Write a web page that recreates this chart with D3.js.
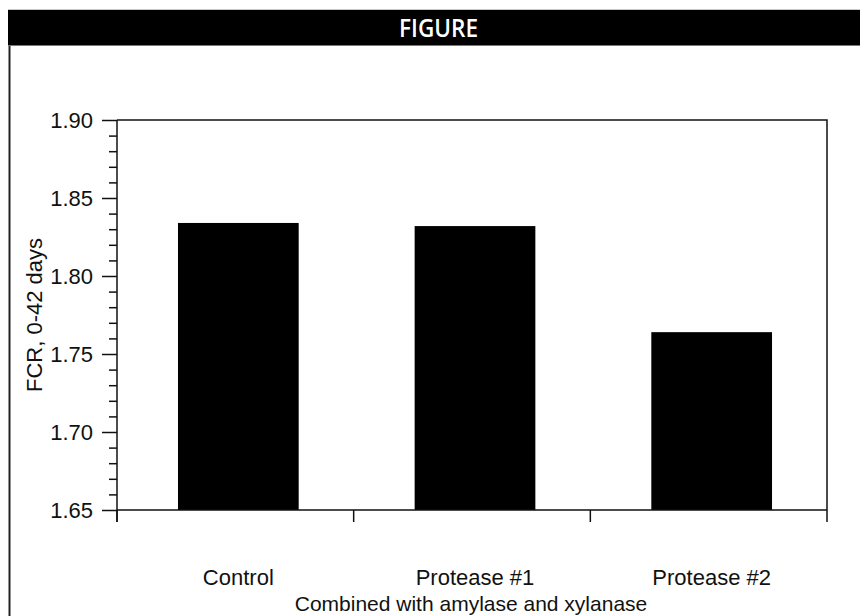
<!DOCTYPE html>
<html>
<head>
<meta charset="utf-8">
<script src="https://cdn.jsdelivr.net/npm/d3@7"></script>
<style>
  html, body { margin: 0; padding: 0; background: #fff; }
  svg { display: block; }
</style>
</head>
<body>
<svg id="chart" width="860" height="616"></svg>
<script>
// ---- data ----
const categories = ["Control", "Protease #1", "Protease #2"];
const fcrValues = [1.834, 1.832, 1.764];
const yMajorTicks = [1.65, 1.70, 1.75, 1.80, 1.85, 1.90];
const yTitle = "FCR, 0-42 days";
const xTitle = "Combined with amylase and xylanase";
const headerText = "FIGURE";

const svg = d3.select("#chart");
const W = 860, H = 616;
const m = { left: 117, right: 827, top: 120, bottom: 510 };
const font = "'Liberation Sans', Arial, Helvetica, sans-serif";
const fs = 22;

// header band
svg.append("line").attr("x1", 8).attr("x2", W).attr("y1", 9.5).attr("y2", 9.5)
  .attr("stroke", "#c8c8c8").attr("stroke-width", 1);
svg.append("rect").attr("x", 8).attr("y", 10).attr("width", W - 8).attr("height", 35).attr("fill", "#000");
svg.append("line").attr("x1", 8).attr("x2", W).attr("y1", 45.5).attr("y2", 45.5)
  .attr("stroke", "#777").attr("stroke-width", 1);
svg.append("text").attr("x", 438.5).attr("y", 37)
  .attr("text-anchor", "middle").attr("fill", "#fff")
  .attr("font-family", "'Liberation Sans Narrow', 'Open Sans', Arial, sans-serif")
  .attr("font-weight", 600).attr("font-size", 26)
  .attr("textLength", 79).attr("lengthAdjust", "spacingAndGlyphs")
  .text(headerText);

// outer frame left border
svg.append("line").attr("x1", 9.5).attr("x2", 9.5).attr("y1", 46).attr("y2", H)
  .attr("stroke", "#222").attr("stroke-width", 2);

// scales
const x = d3.scaleBand().domain(categories).range([m.left, m.right]).paddingInner(0).paddingOuter(0);
const xBar = d3.scaleBand().domain(categories).range([m.left + 3, m.right + 3]).paddingInner(0.49).paddingOuter(0.245);
const y = d3.scaleLinear().domain([1.65, 1.90]).range([m.bottom, m.top]);

// bars
svg.append("g").selectAll("rect").data(categories).join("rect")
  .attr("x", d => xBar(d))
  .attr("width", xBar.bandwidth())
  .attr("y", (d, i) => y(fcrValues[i]))
  .attr("height", (d, i) => y(1.65) - y(fcrValues[i]))
  .attr("fill", "#000");

// frame top & right
svg.append("path")
  .attr("d", `M${m.left},${m.top}H${m.right}V${m.bottom}`)
  .attr("fill", "none").attr("stroke", "#111").attr("stroke-width", 1.5);

// y axis minor ticks
const minorTicks = d3.range(0, 26).map(i => 1.65 + i * 0.01).filter(v => Math.abs(Math.round(v * 20) - v * 20) > 1e-6);
const yMinor = svg.append("g").attr("transform", `translate(${m.left},0)`)
  .call(d3.axisLeft(y).tickValues(minorTicks).tickSize(8).tickFormat(""));
yMinor.select(".domain").remove();
yMinor.selectAll("line").attr("stroke", "#111").attr("stroke-width", 1.5);

// y axis major
const yAx = svg.append("g").attr("transform", `translate(${m.left},0)`)
  .call(d3.axisLeft(y).tickValues(yMajorTicks).tickSize(15).tickPadding(9).tickFormat(d3.format(".2f")));
yAx.select(".domain").remove();
yAx.selectAll("line").attr("stroke", "#111").attr("stroke-width", 1.5);
yAx.selectAll("text").attr("font-family", font).attr("font-size", fs).attr("fill", "#111");
svg.append("line").attr("x1", m.left).attr("x2", m.left).attr("y1", m.top).attr("y2", m.bottom + 12)
  .attr("stroke", "#111").attr("stroke-width", 1.5);

// x axis
svg.append("line").attr("x1", m.left).attr("x2", m.right).attr("y1", m.bottom).attr("y2", m.bottom)
  .attr("stroke", "#111").attr("stroke-width", 1.5);
const edges = categories.map(c => x(c)).concat([x.range()[1]]);
svg.append("g").selectAll("line").data(edges).join("line")
  .attr("x1", d => d).attr("x2", d => d).attr("y1", m.bottom).attr("y2", m.bottom + 12)
  .attr("stroke", "#111").attr("stroke-width", 1.5);
svg.append("g").selectAll("text").data(categories).join("text")
  .attr("x", d => xBar(d) + xBar.bandwidth() / 2)
  .attr("y", 585)
  .attr("text-anchor", "middle")
  .attr("font-family", font).attr("font-size", fs).attr("fill", "#111")
  .text(d => d);

// axis titles
svg.append("text").attr("x", 471).attr("y", 611)
  .attr("text-anchor", "middle").attr("font-family", font).attr("font-size", 21).attr("fill", "#111")
  .text(xTitle);
svg.append("text").attr("transform", "translate(42,315) rotate(-90)")
  .attr("text-anchor", "middle").attr("font-family", font).attr("font-size", fs).attr("fill", "#111")
  .text(yTitle);
</script>
</body>
</html>
